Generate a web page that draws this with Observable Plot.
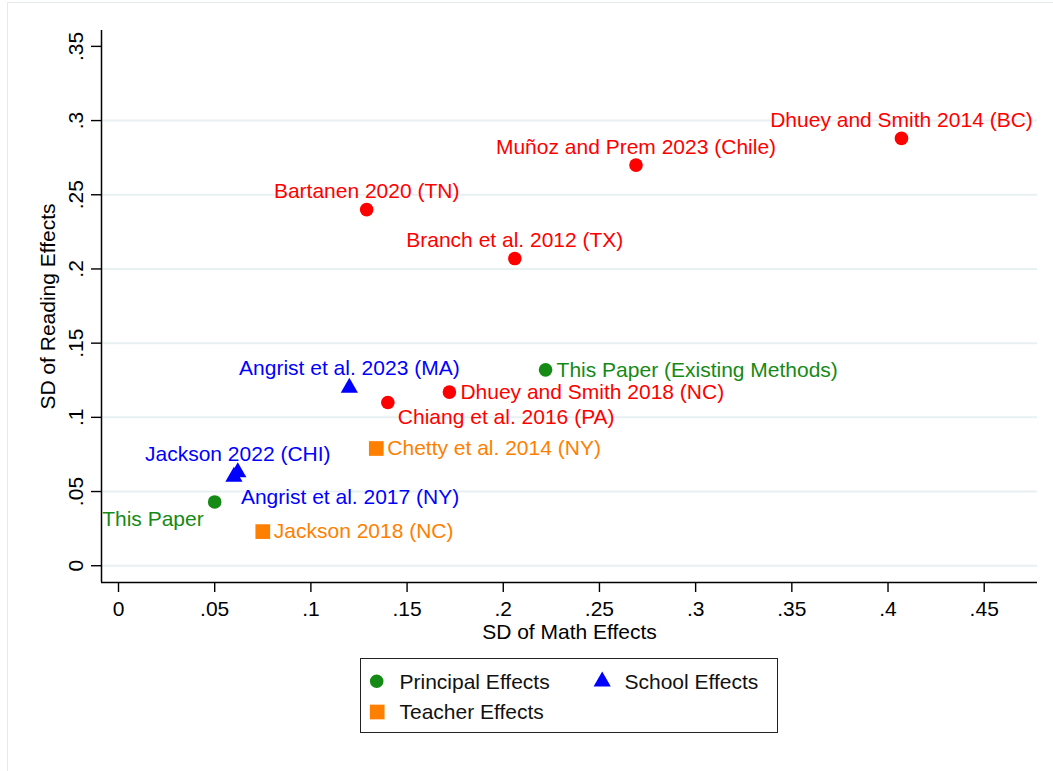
<!DOCTYPE html>
<html>
<head>
<meta charset="utf-8">
<script src="https://cdn.jsdelivr.net/npm/d3@7"></script>
<script src="https://cdn.jsdelivr.net/npm/@observablehq/plot@0.6"></script>
<style>
  html, body { margin: 0; padding: 0; background: #fff; overflow: hidden; }
  #page { position: relative; width: 1053px; height: 771px; font-family: "Liberation Sans", Arial, Helvetica, sans-serif; }
  #edge { position: absolute; left: 7px; top: 2px; width: 1100px; height: 800px;
          border-left: 1px solid #e3eaec; border-top: 1px solid #e3eaec; }
  #chart { position: absolute; left: 0; top: 0; }
  #legend { position: absolute; left: 360px; top: 658px; width: 418px; height: 75px;
            box-sizing: border-box; border: 1.5px solid #222; background: #fff; }
  #legend svg { position: absolute; left: 0; top: 0; overflow: visible; }
</style>
</head>
<body>
<div id="page">
  <div id="edge"></div>
  <div id="chart"></div>
  <div id="legend"></div>
</div>
<script>
// Studies of principal, school and teacher value-added: SD of effects on math and reading
const studies = [
  "This Paper",
  "This Paper (Existing Methods)",
  "Bartanen 2020 (TN)",
  "Branch et al. 2012 (TX)",
  "Muñoz and Prem 2023 (Chile)",
  "Dhuey and Smith 2014 (BC)",
  "Dhuey and Smith 2018 (NC)",
  "Chiang et al. 2016 (PA)",
  "Angrist et al. 2023 (MA)",
  "Jackson 2022 (CHI)",
  "Angrist et al. 2017 (NY)",
  "Chetty et al. 2014 (NY)",
  "Jackson 2018 (NC)"
];
const effectType = [
  "Principal Effects", "Principal Effects", "Principal Effects", "Principal Effects",
  "Principal Effects", "Principal Effects", "Principal Effects", "Principal Effects",
  "School Effects", "School Effects", "School Effects",
  "Teacher Effects", "Teacher Effects"
];
const source = [
  "this paper", "this paper", "prior", "prior", "prior", "prior", "prior", "prior",
  "prior", "prior", "prior", "prior", "prior"
];
const mathSD    = [0.050, 0.222, 0.129, 0.206, 0.269, 0.407, 0.172, 0.140, 0.120, 0.062, 0.060, 0.134, 0.075];
const readingSD = [0.043, 0.132, 0.240, 0.207, 0.270, 0.288, 0.117, 0.110, 0.120, 0.063, 0.060, 0.079, 0.023];

const xTicks = [0, 0.05, 0.1, 0.15, 0.2, 0.25, 0.3, 0.35, 0.4, 0.45];
const yTicks = [0, 0.05, 0.1, 0.15, 0.2, 0.25, 0.3, 0.35];
const yGrid  = [0, 0.05, 0.1, 0.15, 0.2, 0.25, 0.3];
const xTitle = "SD of Math Effects";
const yTitle = "SD of Reading Effects";

const legendItems = ["Principal Effects", "School Effects", "Teacher Effects"];

// colours
const GREEN = "#158a15", RED = "#ff0000", BLUE = "#0000ff", ORANGE = "#ff8000";
function colorOf(d) {
  if (d.type === "School Effects") return BLUE;
  if (d.type === "Teacher Effects") return ORANGE;
  return d.source === "this paper" ? GREEN : RED;
}

const rows = studies.map((s, i) => ({
  study: s, type: effectType[i], source: source[i], math: mathSD[i], reading: readingSD[i]
}));
rows.forEach(d => d.color = colorOf(d));

// label placement around each marker (clock position style)
const above = {textAnchor: "middle", dx: 0, dy: -18};
const right = {textAnchor: "start", dx: 11, dy: 0};
const placement = {
  "This Paper": {textAnchor: "end", dx: -11, dy: 17},
  "This Paper (Existing Methods)": right,
  "Bartanen 2020 (TN)": above,
  "Branch et al. 2012 (TX)": above,
  "Muñoz and Prem 2023 (Chile)": above,
  "Dhuey and Smith 2014 (BC)": above,
  "Dhuey and Smith 2018 (NC)": right,
  "Chiang et al. 2016 (PA)": {textAnchor: "start", dx: 10, dy: 15},
  "Angrist et al. 2023 (MA)": {textAnchor: "middle", dx: 0, dy: -19},
  "Jackson 2022 (CHI)": {textAnchor: "middle", dx: 0, dy: -18},
  "Angrist et al. 2017 (NY)": {textAnchor: "start", dx: 7, dy: 21},
  "Chetty et al. 2014 (NY)": right,
  "Jackson 2018 (NC)": right
};

const fmt = v => v === 0 ? "0" : d3.format(".2~f")(v).replace(/^0/, "");
const FONT = 21;
const xDomain = [-0.00884, 0.4777];
const yDomain = [-0.0113, 0.3607];

const labelMarks = rows.map(d => {
  const p = placement[d.study];
  return Plot.text([d], {
    x: "math", y: "reading", text: "study", fill: d.color,
    textAnchor: p.textAnchor, dx: p.dx, dy: p.dy, fontSize: FONT
  });
});

const chart = Plot.plot({
  width: 1053,
  height: 650,
  marginLeft: 101,
  marginRight: 16,
  marginTop: 30,
  marginBottom: 68,
  x: {domain: xDomain},
  y: {domain: yDomain},
  style: {fontFamily: '"Liberation Sans", Arial, Helvetica, sans-serif', fontSize: FONT + "px", color: "#000", background: "transparent", overflow: "visible"},
  marks: [
    Plot.gridY(yGrid, {stroke: "#e9f0f2", strokeOpacity: 1, strokeWidth: 2}),
    Plot.axisX({ticks: xTicks, tickFormat: fmt, tickSize: 10, tickPadding: 9, label: null,
                strokeWidth: 1.4, fontSize: FONT, fill: "#000"}),
    Plot.axisY({ticks: yTicks, tickFormat: fmt, tickSize: 10, tickPadding: 9, tickRotate: -90, label: null,
                strokeWidth: 1.4, fontSize: FONT, fill: "#000"}),
    Plot.ruleX([xDomain[0]], {stroke: "#000", strokeWidth: 1.5}),
    Plot.ruleY([yDomain[0]], {stroke: "#000", strokeWidth: 1.5}),
    Plot.text([xTitle], {frameAnchor: "bottom", lineAnchor: "middle", dy: 50, fontSize: FONT, fill: "#000"}),
    Plot.text([yTitle], {frameAnchor: "left", textAnchor: "middle", lineAnchor: "middle", dx: -53, rotate: -90, fontSize: FONT, fill: "#000"}),
    Plot.dot(rows.filter(d => d.type === "Principal Effects"),
      {x: "math", y: "reading", symbol: "circle", r: 6.8, fill: "color", stroke: "none"}),
    Plot.dot(rows.filter(d => d.type === "Teacher Effects"),
      {x: "math", y: "reading", symbol: "square", r: 8.3, fill: "color", stroke: "none"}),
    Plot.dot(rows.filter(d => d.type === "School Effects"),
      {x: "math", y: "reading", symbol: "triangle", r: 6.4, fill: "color", stroke: "none"}),
    ...labelMarks
  ]
});
document.getElementById("chart").appendChild(chart);

// legend below the chart
const lg = d3.select("#legend").append("svg").attr("width", 415).attr("height", 72)
  .style("font-family", '"Liberation Sans", Arial, Helvetica, sans-serif').style("font-size", FONT + "px");
const legendSpec = [
  {label: legendItems[0], symbol: d3.symbolCircle, size: Math.PI * 6.8 * 6.8, color: GREEN, x: 15.7, y: 22.2, tx: 38.5},
  {label: legendItems[1], symbol: d3.symbolTriangle, size: Math.PI * 6.4 * 6.4, color: BLUE, x: 241.2, y: 22.5, tx: 263.5},
  {label: legendItems[2], symbol: d3.symbolSquare, size: Math.PI * 8.3 * 8.3, color: ORANGE, x: 16.2, y: 53, tx: 38.5}
];
const li = lg.selectAll("g").data(legendSpec).join("g");
li.append("path")
  .attr("transform", d => `translate(${d.x},${d.y})`)
  .attr("d", d => d3.symbol(d.symbol, d.size)())
  .attr("fill", d => d.color);
li.append("text")
  .attr("x", d => d.tx).attr("y", d => d.y).attr("dy", "0.35em")
  .attr("fill", "#111")
  .text(d => d.label);
</script>
</body>
</html>
